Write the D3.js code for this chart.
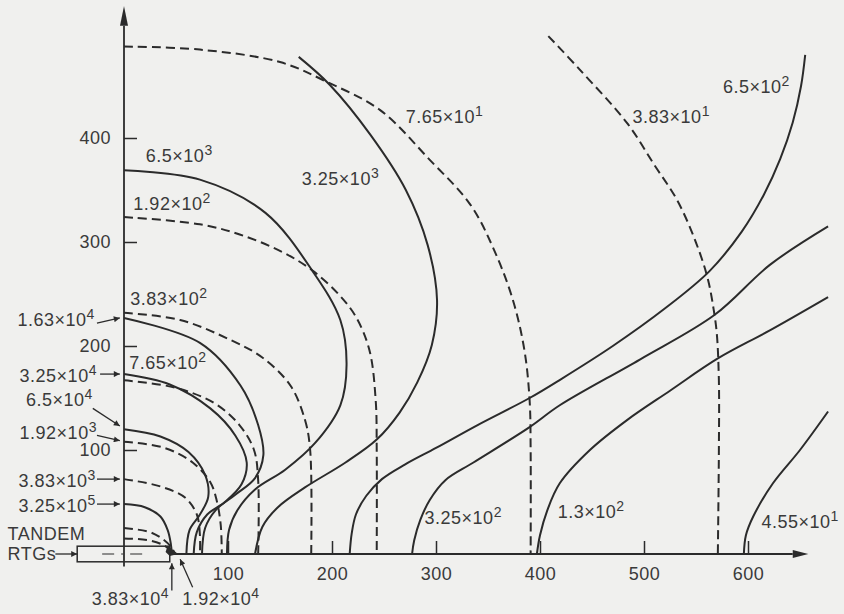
<!DOCTYPE html>
<html>
<head>
<meta charset="utf-8">
<script src="https://cdn.jsdelivr.net/npm/d3@7"></script>
<style>
  html, body { margin: 0; padding: 0; background: #f0f0ee; }
  svg { display: block; }
  text { font-family: "Liberation Sans", Arial, sans-serif; fill: #3a3a3a; letter-spacing: 0.5px; }
</style>
</head>
<body>
<div id="chart"></div>
<script>
// ---- axis ticks ----
const xTicks = [100, 200, 300, 400, 500, 600];
const yTicks = [100, 200, 300, 400];

// ---- solid contours (in chart units) ----
const solid325e5 = [[0,48],[20,45],[35,36],[42,23],[45,10],[46,0]];
const solid65e4 = [[0,120],[35,113],[62,98],[78,76],[81,55],[73,38],[63,23],[60,0]];
const solid325e4 = [[0,173],[44,163],[83,140],[107,114],[118,88],[113,67],[97,50],[80,38],[70,21],[67,0]];
const solid163e4 = [[0,227],[73,203],[112,162],[129,124],[134,95],[126,73],[107,57],[88,42],[78,25],[75,0]];
const solid65e3 = [[0,369],[73,360],[136,328],[182,271],[208,225],[214,182],[208,143],[184,107],[155,81],[126,62],[109,42],[101,23],[99,0]];
const solid325e3 = [[168,478],[198,451],[237,403],[271,350],[292,297],[301,244],[296,201],[282,165],[265,136],[243,110],[213,88],[174,64],[148,45],[133,26],[126,0]];
const solid65e2 = [[655,480],[651,450],[643,415],[631,380],[615,345],[594,310],[563,272],[520,236],[470,200],[420,168],[390,150],[340,124],[300,102],[270,86],[248,72],[233,56],[223,38],[219,20],[217,0]];
const solid325e2 = [[677,315],[621,278],[568,230],[496,187],[419,143],[390,122],[336,88],[309,71],[294,52],[285,33],[279,13],[277,0]];
const solid13e2 = [[677,247],[621,215],[571,188],[525,157],[484,129],[448,100],[419,68],[407,42],[400,18],[397,0]];
const solid455e1 = [[596,0],[598,18],[605,36],[624,68],[650,100],[677,137]];

// ---- dashed contours ----
const dash383e4 = [[0,15],[25,13],[39,8],[45,3],[47,0]];
const dash192e4 = [[0,25],[25,21],[39,13],[46,6],[49,0]];
const dash383e3 = [[0,72],[35,65],[59,54],[70,38],[73,18],[73,0]];
const dash192e3 = [[0,108],[39,102],[66,88],[83,69],[89,52],[93,28],[94,0]];
const dash765e2 = [[0,167],[49,160],[87,145],[111,124],[125,100],[129,71],[129,0]];
const dash383e2 = [[0,232],[54,225],[102,206],[133,189],[160,162],[174,129],[179,100],[180,0]];
const dash192e2 = [[0,324],[73,317],[112,307],[153,290],[182,272],[207,249],[223,228],[236,196],[242,148],[243,100],[243,0]];
const dash765e1 = [[0,488],[73,485],[150,473],[195,454],[246,427],[294,379],[333,336],[356,292],[374,244],[385,196],[390,148],[391,100],[391,0]];
const dash383e1 = [[408,498],[438,466],[484,414],[510,374],[532,340],[549,302],[561,266],[567,235],[570,212],[572,167],[572,100],[571,0]];

const solidContours = [solid325e5, solid65e4, solid325e4, solid163e4, solid65e3, solid325e3, solid65e2, solid325e2, solid13e2, solid455e1];
const dashedContours = [dash383e4, dash192e4, dash383e3, dash192e3, dash765e2, dash383e2, dash192e2, dash765e1, dash383e1];

// ---- contour labels: [mantissa, exponent] and where they sit ----
const inLabels = [["6.5","3"],["1.92","2"],["3.83","2"],["7.65","2"],["3.25","3"],["7.65","1"],["3.83","1"],["6.5","2"],["3.25","2"],["1.3","2"],["4.55","1"]];
const inLabelAt = [[21,377],[9,331],[6,239],[5,178],[171,355],[271,414],[489,414],[576,443],[289,29],[417,35],[613,25]];

// labels left of the y axis (right aligned), each with a leader arrow
const sideLabels = [["1.63","4"],["3.25","4"],["6.5","4"],["1.92","3"],["3.83","3"],["3.25","5"]];
const sideLabelAt = [[-28,219],[-26,165],[-30,142],[-26,111],[-27,64],[-27,40]];
const sideArrows = [[[-26,222],[-4,227]],[[-23,173],[-4,173]],[[-30,140],[-4,123]],[[-26,114],[-4,109]],[[-26,72],[-4,72]],[[-26,48],[-4,48]]];

// labels under the x axis
const bottomLabels = [["3.83","4"],["1.92","4"]];
const bottomLabelAt = [[-31,-49],[56,-49]];
const bottomArrows = [[[46,-35],[46,-9]],[[66,-32],[54,-5]]];

// RTG block and the dark end where the contours meet
const rtgX = [-45, 44];
const rtgY = [-7.5, 7.5];
const sourceEnd = [[42,8],[52,0],[44,-2],[40,2]];

const width = 844, height = 614;
const ink = "#2b2b2b";

const svg = d3.select("#chart").append("svg")
    .attr("width", width)
    .attr("height", height);

const x = d3.scaleLinear().domain([0, 600]).range([124, 748]);
const y = d3.scaleLinear().domain([0, 400]).range([554, 138]);

svg.append("defs").append("marker")
    .attr("id", "tip")
    .attr("viewBox", "0 0 10 10")
    .attr("refX", 10).attr("refY", 5)
    .attr("markerWidth", 7).attr("markerHeight", 6)
    .attr("markerUnits", "userSpaceOnUse")
    .attr("orient", "auto")
    .append("path")
    .attr("d", "M0,0L10,5L0,10Z")
    .attr("fill", ink);

// axes with inward ticks
svg.append("g")
    .attr("transform", "translate(" + x(0) + ",0)")
    .attr("color", ink)
    .call(d3.axisLeft(y).tickValues(yTicks).tickSizeInner(-13).tickSizeOuter(0).tickPadding(13))
    .call(g => g.select(".domain").remove())
    .call(g => g.selectAll("line").attr("stroke-width", 1.5))
    .call(g => g.selectAll("text").attr("font-size", 18));

svg.append("g")
    .attr("transform", "translate(0," + y(0) + ")")
    .attr("color", ink)
    .call(d3.axisBottom(x).tickValues(xTicks).tickSizeInner(-13).tickSizeOuter(0).tickPadding(13))
    .call(g => g.select(".domain").remove())
    .call(g => g.selectAll("line").attr("stroke-width", 1.5))
    .call(g => g.selectAll("text").attr("font-size", 18));

// axis lines + arrow heads
svg.append("line")
    .attr("x1", x(0)).attr("x2", x(0))
    .attr("y1", y(-12)).attr("y2", y(508))
    .attr("stroke", ink).attr("stroke-width", 1.8);
svg.append("path")
    .attr("d", "M" + x(0) + "," + y(527) + "L" + (x(0) - 4) + "," + y(508) + "L" + (x(0) + 4) + "," + y(508) + "Z")
    .attr("fill", ink);

svg.append("line")
    .attr("x1", x(44)).attr("x2", x(643))
    .attr("y1", y(0)).attr("y2", y(0))
    .attr("stroke", ink).attr("stroke-width", 1.8);
svg.append("path")
    .attr("d", "M" + x(658) + "," + y(0) + "L" + x(643) + "," + (y(0) - 4) + "L" + x(643) + "," + (y(0) + 4) + "Z")
    .attr("fill", ink);

// RTG block and its centre line
svg.append("rect")
    .attr("x", x(rtgX[0])).attr("y", y(rtgY[1]))
    .attr("width", x(rtgX[1]) - x(rtgX[0]))
    .attr("height", y(rtgY[0]) - y(rtgY[1]))
    .attr("fill", "none").attr("stroke", ink).attr("stroke-width", 1.5);
svg.append("line")
    .attr("x1", x(-21)).attr("x2", x(19))
    .attr("y1", y(0)).attr("y2", y(0))
    .attr("stroke", ink).attr("stroke-width", 1.2)
    .attr("stroke-dasharray", "12,7,2,7");

// contours
const line = d3.line()
    .x(d => x(d[0]))
    .y(d => y(d[1]))
    .curve(d3.curveCatmullRom.alpha(0.5));

svg.append("g").selectAll("path")
    .data(solidContours)
    .join("path")
    .attr("d", line)
    .attr("fill", "none")
    .attr("stroke", ink)
    .attr("stroke-width", 2);

svg.append("g").selectAll("path")
    .data(dashedContours)
    .join("path")
    .attr("d", line)
    .attr("fill", "none")
    .attr("stroke", ink)
    .attr("stroke-width", 2)
    .attr("stroke-dasharray", "9,5");

svg.append("path")
    .datum(sourceEnd)
    .attr("d", d3.line().x(d => x(d[0])).y(d => y(d[1])).curve(d3.curveLinearClosed))
    .attr("fill", ink);

// label helper: mantissa x 10 with a raised exponent
function sci(sel, d) {
    sel.append("tspan").text(d[0] + "×10");
    sel.append("tspan").attr("dy", -7).attr("font-size", 14).text(d[1]);
}

svg.append("g").selectAll("text")
    .data(inLabels)
    .join("text")
    .attr("x", (d, i) => x(inLabelAt[i][0]))
    .attr("y", (d, i) => y(inLabelAt[i][1]))
    .attr("font-size", 18)
    .each(function (d) { sci(d3.select(this), d); });

svg.append("g").selectAll("text")
    .data(sideLabels)
    .join("text")
    .attr("x", (d, i) => x(sideLabelAt[i][0]))
    .attr("y", (d, i) => y(sideLabelAt[i][1]))
    .attr("font-size", 18)
    .attr("text-anchor", "end")
    .each(function (d) { sci(d3.select(this), d); });

svg.append("g").selectAll("text")
    .data(bottomLabels)
    .join("text")
    .attr("x", (d, i) => x(bottomLabelAt[i][0]))
    .attr("y", (d, i) => y(bottomLabelAt[i][1]))
    .attr("font-size", 18)
    .each(function (d) { sci(d3.select(this), d); });

svg.append("g").selectAll("line")
    .data(sideArrows.concat(bottomArrows, [[[-66, 0], [-45, 0]]]))
    .join("line")
    .attr("x1", d => x(d[0][0])).attr("y1", d => y(d[0][1]))
    .attr("x2", d => x(d[1][0])).attr("y2", d => y(d[1][1]))
    .attr("stroke", ink).attr("stroke-width", 1.3)
    .attr("marker-end", "url(#tip)");

svg.append("text")
    .attr("x", x(-112)).attr("y", y(13))
    .attr("font-size", 18)
    .text("TANDEM");
svg.append("text")
    .attr("x", x(-112)).attr("y", y(-6))
    .attr("font-size", 18)
    .text("RTGs");
</script>
</body>
</html>
